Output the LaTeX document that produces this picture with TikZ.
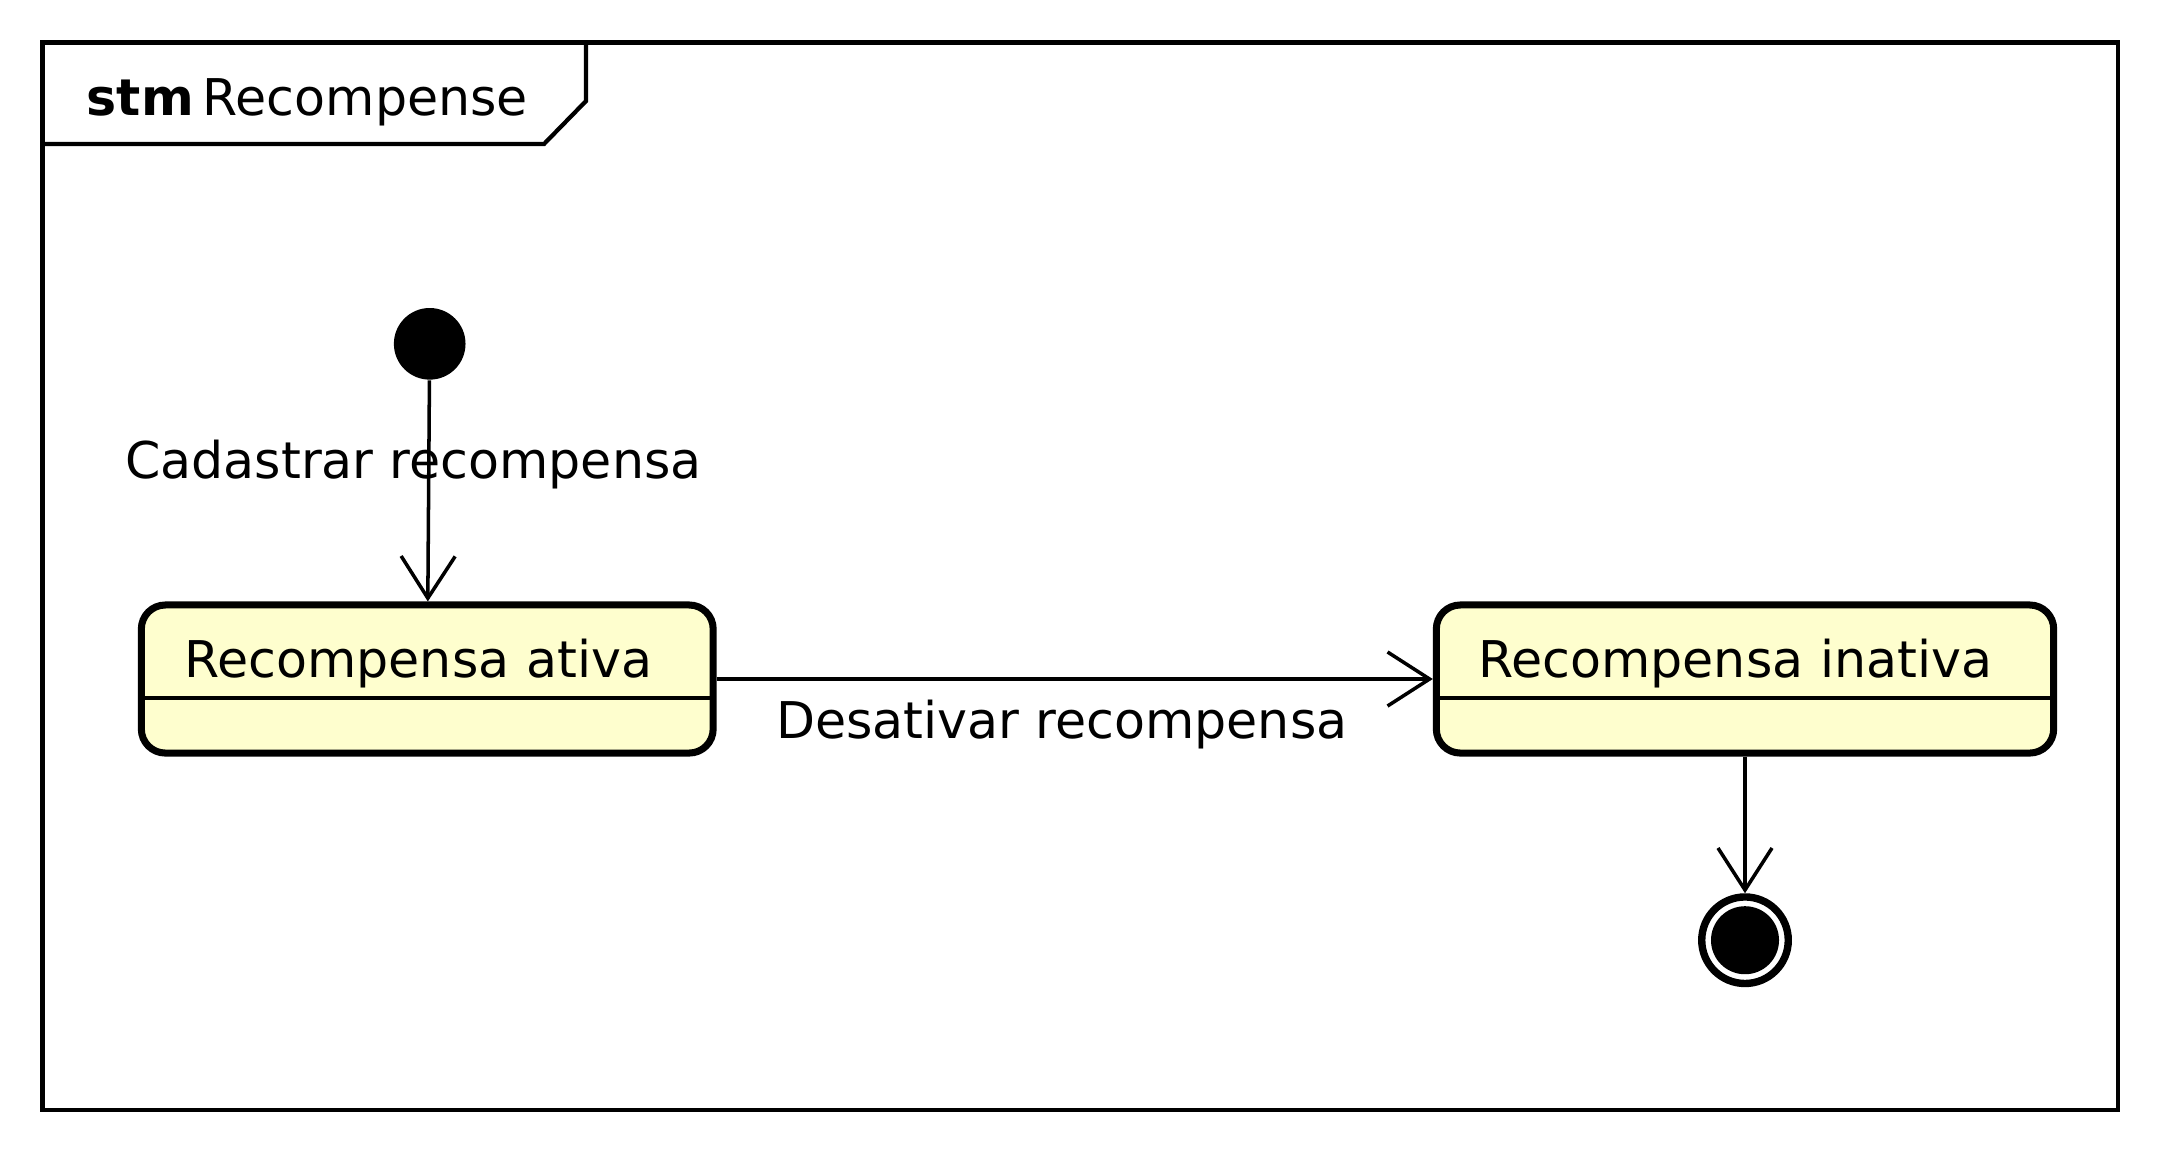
\documentclass[tikz,border=0pt]{standalone}
\usepackage{fontspec}
\setmainfont{DejaVu Sans}
\usepackage{xcolor}
\usepackage{tikz}
\usetikzlibrary{arrows.meta}
\usetikzlibrary{shapes}

\definecolor{statefill}{HTML}{FEFECE}
\newcommand{\umlfont}{\fontsize{14.4pt}{17pt}\selectfont}

\tikzset{
  umlframe/.style = {line width=1.2pt, line join=miter},
  state/.style = {rectangle, rounded corners=0.24cm, draw=black, line width=2pt,
    fill=statefill, minimum height=1.48cm, inner ysep=0pt, align=left,
    text height=0.3cm, text depth=0.326cm, font=\umlfont,
    path picture={\draw[line width=1pt]
      ([yshift=-0.928cm]path picture bounding box.north west) --
      ([yshift=-0.928cm]path picture bounding box.north east);}},
  initstate/.style = {circle, fill=black, minimum size=0.716cm, inner sep=0pt},
  finalstate/.style = {circle, draw=black, line width=2.1pt, fill=white,
    minimum size=0.865cm, inner sep=0pt,
    path picture={\fill[black] (path picture bounding box.center) circle (0.34cm);}},
  trans/.style = {line width=1pt, -{Straight Barb[length=0.42cm, width=0.54cm]}},
  translabel/.style = {font=\umlfont, inner sep=0pt, anchor=base}
}

\begin{document}
\begin{tikzpicture}[x=0.01cm, y=-0.01cm]
\useasboundingbox (0, 0) rectangle (2160, 1153);

\draw [umlframe] (42.5, 42.5) rectangle (2118, 1110);
\draw [umlframe] (586, 42.5) -- (586, 101) -- (544, 144) -- (42.5, 144);
\node [anchor=base west, inner sep=0pt, font=\umlfont] (stmtitle) at (86, 115)
    {\textbf{stm}\hspace{0.09cm}Recompense};

\node [initstate] (init) at (429.7, 343.8) {};
\node [state, inner xsep=0.43cm, text width=4.855cm] (ativa) at (427.25, 679)
    {Recompensa ativa};
\node [state, inner xsep=0.42cm, text width=5.33cm] (inativa) at (1745, 679)
    {Recompensa inativa};
\node [finalstate] (final) at (1745, 940.2) {};

\draw [trans] (init) -- (ativa);
\draw [trans] (ativa) -- (inativa);
\draw [trans] (inativa) -- (final);

\node [translabel] (lblcadastrar) at (413.4, 478) {Cadastrar recompensa};
\node [translabel] (lbldesativar) at (1061.8, 738.3) {Desativar recompensa};
\end{tikzpicture}
\end{document}
